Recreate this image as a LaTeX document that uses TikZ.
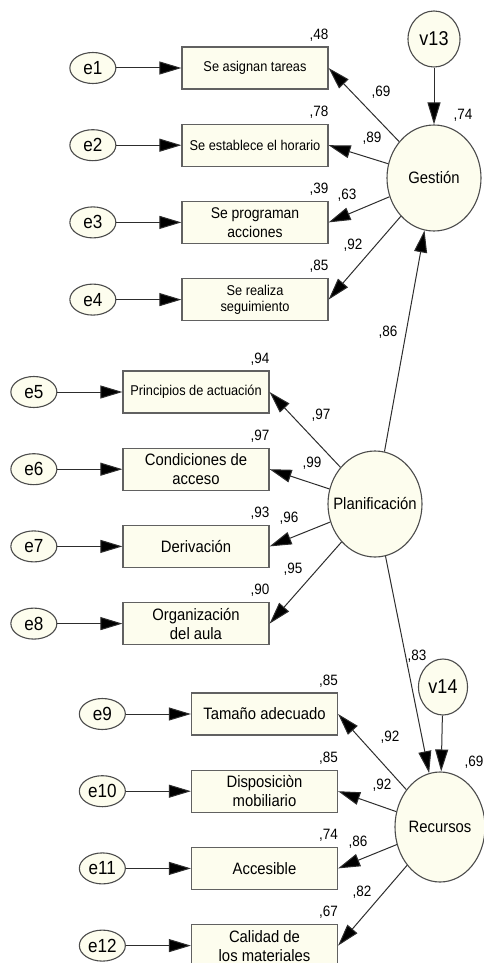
\documentclass[tikz,border=0pt]{standalone}
\usepackage{fontspec}
\setmainfont{Liberation Sans}[FakeStretch=0.9]
\usetikzlibrary{arrows.meta,positioning,shapes.geometric}
\definecolor{amosfill}{RGB}{253,253,238}
\definecolor{amosline}{RGB}{45,45,45}
\tikzset{
  >={Triangle[length=22pt,width=13pt,fill=black]},
  obs/.style={
    rectangle, draw=amosline!75, line width=1.2pt, fill=amosfill,
    minimum width=146pt, minimum height=42pt, inner sep=2pt,
    align=center, font=\fontsize{16.5}{19}\selectfont
  },
  obssmall/.style={obs, font=\fontsize{14.2}{15.5}\selectfont},
  err/.style={
    ellipse, draw=amosline!85, line width=1.1pt, fill=amosfill,
    minimum width=46pt, minimum height=31pt, inner sep=0pt,
    font=\fontsize{19}{19}\selectfont
  },
  lat/.style={
    ellipse, draw=amosline!85, line width=1.1pt, fill=amosfill,
    minimum width=94pt, minimum height=106pt, inner sep=0pt
  },
  latlab/.style={font=\fontsize{16.5}{16.5}\selectfont, inner sep=0pt},
  disturb/.style={
    ellipse, draw=amosline!85, line width=1.1pt, fill=amosfill,
    minimum width=52pt, minimum height=56pt, inner sep=0pt,
    font=\fontsize{20}{20}\selectfont
  },
  coef/.style={font=\fontsize{15}{15}\selectfont, inner sep=0pt},
  arrow/.style={->, line width=1pt, draw=amosline},
}

\begin{document}
\begin{tikzpicture}[x=1pt, y=-1pt, node distance=34pt]
\useasboundingbox (0,0) rectangle (484,963);
% --- Gestion block ---
\node[obssmall] (b1) at (255,68) {Se asignan tareas};
\node[obssmall, below=of b1] (b2) {Se establece el horario};
\node[obs, font=\fontsize{15.5}{19}\selectfont, below=of b2] (b3) {Se programan\\acciones};
\node[obssmall, below=of b3] (b4) {Se realiza\\seguimiento};
\node[err, left=65pt of b1] (e1) {e1};
\node[err, left=65pt of b2] (e2) {e2};
\node[err, left=65pt of b3] (e3) {e3};
\node[err, left=65pt of b4] (e4) {e4};
\node[lat, label={[latlab]center:Gestión}] (ges) at (434,178) {};
\node[disturb] (v13) at (434,39) {v13};
% --- Planificacion block ---
\node[obssmall] (b5) at (196,392) {Principios de actuación};
\node[obs, below=of b5] (b6) {Condiciones de\\acceso};
\node[obs, below=of b6] (b7) {Derivación};
\node[obs, below=of b7] (b8) {Organización\\del aula};
\node[err, left=65pt of b5] (e5) {e5};
\node[err, left=65pt of b6] (e6) {e6};
\node[err, left=65pt of b7] (e7) {e7};
\node[err, left=65pt of b8] (e8) {e8};
\node[lat, label={[latlab]center:Planificación}] (pla) at (375,504) {};
% --- Recursos block ---
\node[obs] (b9) at (264.5,714) {Tamaño adecuado};
\node[obs, below=of b9] (b10) {Disposiciòn\\mobiliario};
\node[obs, below=of b10] (b11) {Accesible};
\node[obs, below=of b11] (b12) {Calidad de\\los materiales};
\node[err, left=65pt of b9] (e9) {e9};
\node[err, left=65pt of b10] (e10) {e10};
\node[err, left=65pt of b11] (e11) {e11};
\node[err, left=65pt of b12] (e12) {e12};
\node[lat, minimum width=90pt, minimum height=110pt, label={[latlab]center:Recursos}] (rec) at (440,827) {};
\node[disturb, minimum width=49pt] (v14) at (443,687) {v14};
% --- Arrows ---
\draw[arrow] (e1) -- (b1);
\draw[arrow] (e2) -- (b2);
\draw[arrow] (e3) -- (b3);
\draw[arrow] (e4) -- (b4);
\draw[arrow] (e5) -- (b5);
\draw[arrow] (e6) -- (b6);
\draw[arrow] (e7) -- (b7);
\draw[arrow] (e8) -- (b8);
\draw[arrow] (e9) -- (b9);
\draw[arrow] (e10) -- (b10);
\draw[arrow] (e11) -- (b11);
\draw[arrow] (e12) -- (b12);
\draw[arrow] (ges) -- (b1.east);
\draw[arrow] (ges) -- (b2.east);
\draw[arrow] (ges) -- (b3.east);
\draw[arrow] (ges) -- (b4.east);
\draw[arrow] (pla) -- (b5.east);
\draw[arrow] (pla) -- (b6.east);
\draw[arrow] (pla) -- (b7.east);
\draw[arrow] (pla) -- (b8.east);
\draw[arrow] (rec) -- (b9.east);
\draw[arrow] (rec) -- (b10.east);
\draw[arrow] (rec) -- (b11.east);
\draw[arrow] (rec) -- (b12.east);
\draw[arrow] (v13) -- (ges);
\draw[arrow] (v14) -- (rec);
\draw[arrow] (pla) -- (ges);
\draw[arrow] (pla) -- (rec);
% --- Estimates ---
\foreach \b/\v in {b1/48, b2/78, b3/39, b4/85, b5/94, b6/97, b7/93, b8/90, b9/85, b10/85, b11/74, b12/67}
  \node[coef, anchor=south east] at ([yshift=5pt]\b.north east) {,\v};
\node[coef] at (381,92) {,69};
\node[coef] at (372,138) {,89};
\node[coef] at (347,195) {,63};
\node[coef] at (353,245) {,92};
\node[coef] at (463,115) {,74};
\node[coef] at (388,332) {,86};
\node[coef] at (321,415) {,97};
\node[coef] at (312,463) {,99};
\node[coef] at (289,518) {,96};
\node[coef] at (293,569) {,95};
\node[coef] at (417,656) {,83};
\node[coef] at (390,737) {,92};
\node[coef] at (382,785) {,92};
\node[coef] at (358,842) {,86};
\node[coef] at (362,892) {,82};
\node[coef] at (474,762) {,69};
\end{tikzpicture}
\end{document}
